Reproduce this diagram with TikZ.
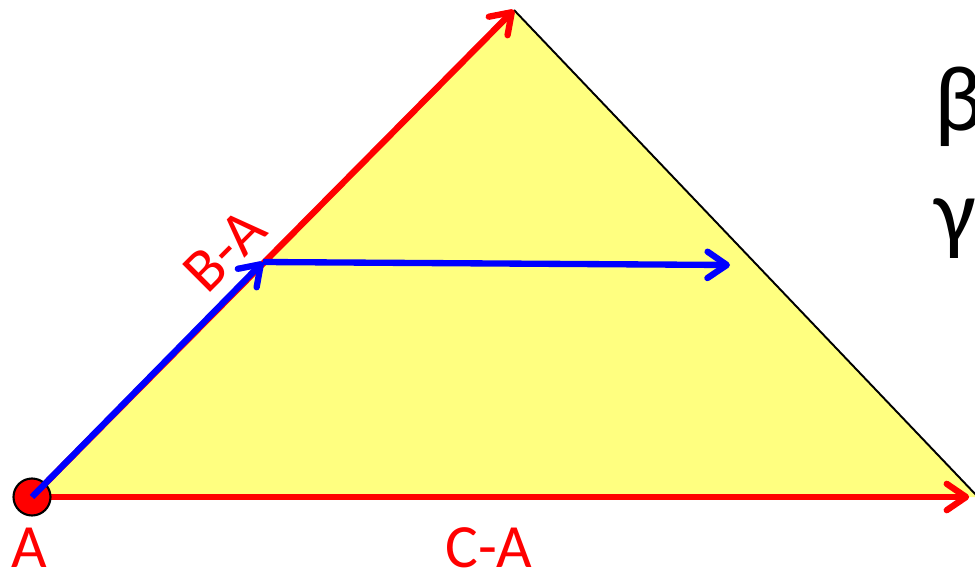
\documentclass[tikz,border=0pt]{standalone}
\usepackage{fontspec}
\setmainfont{Carlito}
\usetikzlibrary{arrows.meta}
\definecolor{tri}{RGB}{255,255,128}

\begin{document}
\begin{tikzpicture}[
  x=0.02cm, y=-0.02cm,
  >={Straight Barb[length=11pt,width=15pt,round]},
  vec/.style={->, line width=3.6pt},
  lbl/.style={text=red, font=\fontsize{35}{42}\selectfont, inner sep=0pt},
  gr/.style={font=\fontsize{53}{62}\selectfont, anchor=base west, inner sep=0pt}
]
\useasboundingbox (0,0) rectangle (975,575);
\clip (0,0) rectangle (975,575);

\coordinate (A) at (32,497);
\coordinate (B) at (514,10);
\coordinate (C) at (978,497);
\coordinate (P) at (263,262);
\coordinate (Q) at (730,265);

\fill[tri] (A) -- (B) -- (C) -- cycle;
\draw[line width=1.1pt] (B) -- (C);

\draw[vec, red] (A) -- (B);
\draw[vec, red] (A) -- ([xshift=-5]C);

\node[circle, draw=black, line width=1.2pt, fill=red, minimum size=0.74cm, inner sep=0pt] (dotA) at (A) {};

\draw[vec, blue] (A) -- (P);
\draw[vec, blue] (P) -- (Q);

\node[lbl, anchor=base] (la) at (29,567) {A};
\node[lbl, anchor=base] (lca) at (489,567) {C-A};
\node[lbl, rotate=45] (lba) at (225,250) {B-A};

\node[gr] (beta) at (934,130) {β};
\node[gr] (gamma) at (934,243) {γ};
\end{tikzpicture}
\end{document}
